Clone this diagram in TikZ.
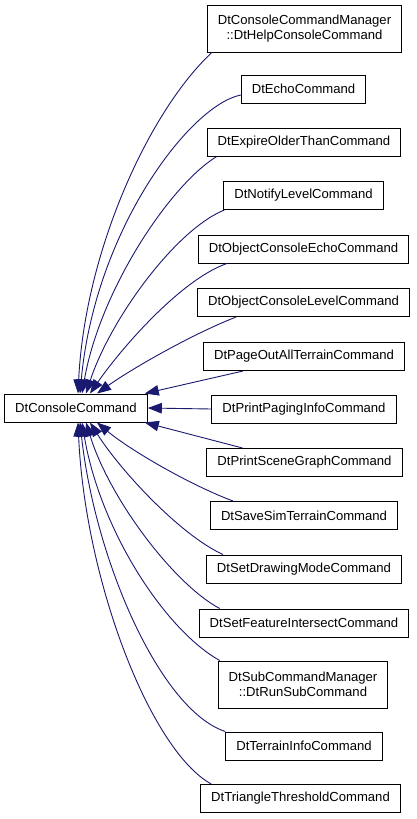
\documentclass[tikz,border=0pt]{standalone}
\usepackage{fontspec}
\setmainfont{Liberation Sans}
\usetikzlibrary{arrows.meta}
\definecolor{edgeblue}{RGB}{25,25,112}
\tikzset{
  box/.style={draw=black, line width=1pt, fill=white, inner xsep=10.5pt, inner ysep=0pt,
    minimum height=28pt, font=\fontsize{13.1}{15}\selectfont, align=center},
  twoline/.style={box, minimum height=47pt},
  edge/.style={draw=edgeblue, line width=0.9pt, -{Triangle[length=14pt,width=10.5pt]}}
}
\begin{document}
\begin{tikzpicture}[x=1pt,y=-1pt]
\useasboundingbox (0,0) rectangle (416,819);
\fill[white] (0,0) rectangle (416,819);
\node[box] (base) at (76,408) {DtConsoleCommand};
\node[twoline] (help) at (304.5,28.5) {DtConsoleCommandManager\\::DtHelpConsoleCommand};
\node[box] (echo) at (303.5,89) {DtEchoCommand};
\node[box] (expire) at (304,142) {DtExpireOlderThanCommand};
\node[box] (notify) at (303.5,195.5) {DtNotifyLevelCommand};
\node[box] (objecho) at (303.5,249) {DtObjectConsoleEchoCommand};
\node[box] (objlevel) at (303.5,302.5) {DtObjectConsoleLevelCommand};
\node[box] (pageout) at (304,356.5) {DtPageOutAllTerrainCommand};
\node[box] (paging) at (304,409) {DtPrintPagingInfoCommand};
\node[box] (scene) at (304.5,462.5) {DtPrintSceneGraphCommand};
\node[box] (savesim) at (304,515.5) {DtSaveSimTerrainCommand};
\node[box] (drawing) at (304,569) {DtSetDrawingModeCommand};
\node[box] (feature) at (304,623) {DtSetFeatureIntersectCommand};
\node[twoline] (sub) at (303,684.5) {DtSubCommandManager\\::DtRunSubCommand};
\node[box] (terrain) at (304,746) {DtTerrainInfoCommand};
\node[box] (triangle) at (300.5,798.5) {DtTriangleThresholdCommand};

\draw[edge] ([xshift=5pt]help.south west) .. controls (150,110) and (85,250) .. ([xshift=2pt]base.north);
\draw[edge] ([yshift=-6pt]echo.west) .. controls (190,105) and (95,230) .. ([xshift=4pt]base.north);
\draw[edge] ([xshift=10pt]expire.south west) .. controls (170,185) and (100,290) .. ([xshift=6pt]base.north);
\draw[edge] ([xshift=1pt]notify.south west) .. controls (175,230) and (110,320) .. ([xshift=10pt]base.north);
\draw[edge] ([xshift=29pt]objecho.south west) .. controls (180,280) and (120,350) .. ([xshift=14pt]base.north);
\draw[edge] ([xshift=39pt]objlevel.south west) .. controls (190,335) and (130,370) .. ([xshift=21pt]base.north);
\draw[edge] ([xshift=40pt]pageout.south west) -- ([xshift=-3pt]base.north east);
\draw[edge] (paging.west) -- (base.east);
\draw[edge] ([xshift=36pt]scene.north west) -- ([xshift=-3pt]base.south east);
\draw[edge] ([xshift=23pt]savesim.north west) .. controls (190,485) and (130,450) .. ([xshift=21pt]base.south);
\draw[edge] ([xshift=17pt]drawing.north west) .. controls (180,535) and (120,470) .. ([xshift=14pt]base.south);
\draw[edge] ([xshift=21pt]feature.north west) .. controls (175,585) and (110,500) .. ([xshift=10pt]base.south);
\draw[edge] ([xshift=2pt]sub.north west) .. controls (165,630) and (100,530) .. ([xshift=6pt]base.south);
\draw[edge] (terrain.north west) .. controls (160,710) and (95,560) .. ([xshift=4pt]base.south);
\draw[edge] ([xshift=11pt]triangle.north west) .. controls (150,750) and (85,580) .. ([xshift=2pt]base.south);
\end{tikzpicture}
\end{document}
